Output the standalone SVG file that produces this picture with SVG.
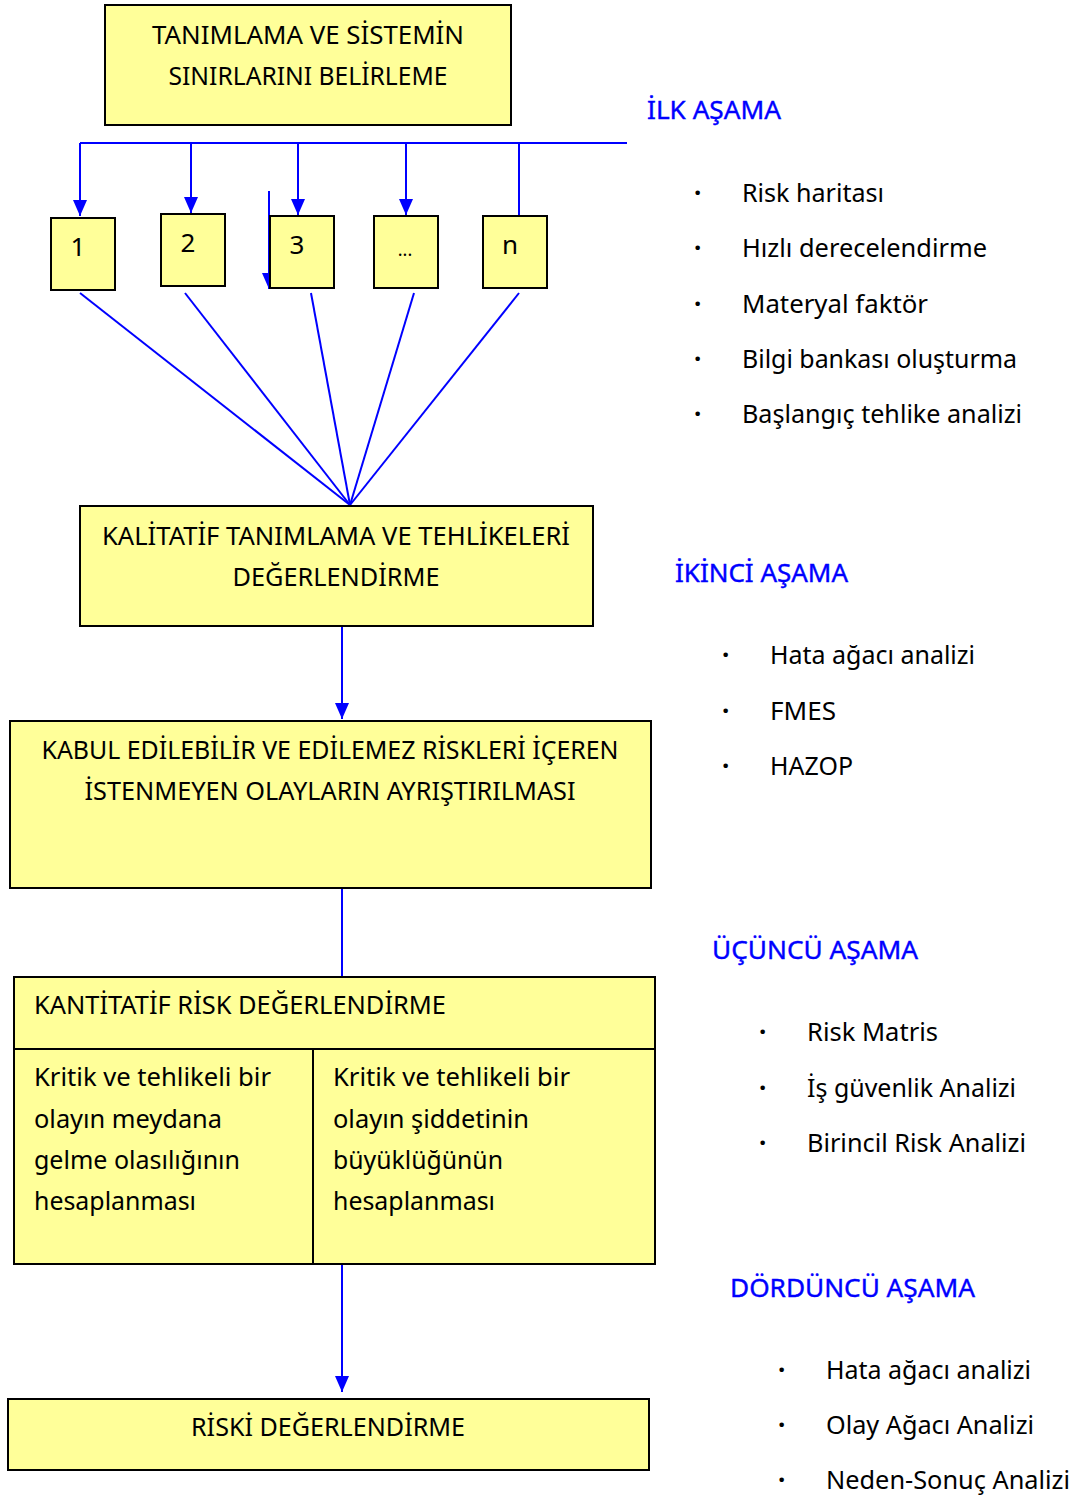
<svg xmlns="http://www.w3.org/2000/svg" width="1077" height="1495" viewBox="0 0 1077 1495">
<style>
.box{fill:#FFFF99;stroke:#000;stroke-width:2}
.t{font-family:"Noto Sans","Open Sans","DejaVu Sans",sans-serif;font-size:26px;fill:#000}
.h{font-family:"Noto Sans","Open Sans","DejaVu Sans",sans-serif;font-size:26px;fill:#0000FF;stroke:#0000FF;stroke-width:0.4}
.b{font-family:"Noto Sans","DejaVu Sans",sans-serif;font-size:26px;font-weight:bold;fill:#000}
.c{text-anchor:middle}
.conn{stroke:#0000FF;stroke-width:2;fill:none}
</style>
<defs>
<marker id="ah" viewBox="0 0 16 14" refX="16" refY="7" markerWidth="16" markerHeight="14" orient="auto" markerUnits="userSpaceOnUse">
<path d="M0,0 L16,7 L0,14 z" fill="#0000FF"/>
</marker>
</defs>
<g id="connectors">
<line class="conn" x1="80" y1="143" x2="627" y2="143"/>
<line class="conn" x1="80" y1="143" x2="80" y2="216" marker-end="url(#ah)"/>
<line class="conn" x1="191" y1="143" x2="191" y2="213" marker-end="url(#ah)"/>
<line class="conn" x1="298" y1="143" x2="298" y2="215" marker-end="url(#ah)"/>
<line class="conn" x1="406" y1="143" x2="406" y2="215" marker-end="url(#ah)"/>
<line class="conn" x1="519" y1="143" x2="519" y2="216"/>
<line class="conn" x1="269" y1="191" x2="269" y2="289" marker-end="url(#ah)"/>
<line class="conn" x1="80" y1="293" x2="350" y2="505"/>
<line class="conn" x1="185" y1="293" x2="350" y2="505"/>
<line class="conn" x1="311" y1="293" x2="350" y2="505"/>
<line class="conn" x1="414" y1="293" x2="350" y2="505"/>
<line class="conn" x1="519" y1="293" x2="350" y2="505"/>
<line class="conn" x1="342" y1="627" x2="342" y2="719" marker-end="url(#ah)"/>
<line class="conn" x1="342" y1="889" x2="342" y2="977"/>
<line class="conn" x1="342" y1="1265" x2="342" y2="1392" marker-end="url(#ah)"/>
</g>
<g id="n-top">
<rect class="box" x="105" y="5" width="406" height="120"/>
<text class="t c" x="308" y="44" textLength="312" lengthAdjust="spacingAndGlyphs">TANIMLAMA VE SİSTEMİN</text>
<text class="t c" x="308" y="85" textLength="279" lengthAdjust="spacingAndGlyphs">SINIRLARINI BELİRLEME</text>
</g>
<g id="n-1"><rect class="box" x="51" y="218" width="64" height="72"/><text class="t c" x="78" y="256">1</text></g>
<g id="n-2"><rect class="box" x="161" y="214" width="64" height="72"/><text class="t c" x="188" y="252">2</text></g>
<g id="n-3"><rect class="box" x="270" y="216" width="64" height="72"/><text class="t c" x="297" y="254">3</text></g>
<g id="n-dots"><rect class="box" x="374" y="216" width="64" height="72"/><text class="t c" x="405" y="256" style="font-size:18px">...</text></g>
<g id="n-n"><rect class="box" x="483" y="216" width="64" height="72"/><text class="t c" x="510" y="254">n</text></g>
<g id="n-kalitatif">
<rect class="box" x="80" y="506" width="513" height="120"/>
<text class="t c" x="336" y="545" textLength="468" lengthAdjust="spacingAndGlyphs">KALİTATİF TANIMLAMA VE TEHLİKELERİ</text>
<text class="t c" x="336" y="586" textLength="207" lengthAdjust="spacingAndGlyphs">DEĞERLENDİRME</text>
</g>
<g id="n-kabul">
<rect class="box" x="10" y="721" width="641" height="167"/>
<text class="t c" x="330" y="759" textLength="577" lengthAdjust="spacingAndGlyphs">KABUL EDİLEBİLİR VE EDİLEMEZ RİSKLERİ İÇEREN</text>
<text class="t c" x="330" y="800" textLength="491" lengthAdjust="spacingAndGlyphs">İSTENMEYEN OLAYLARIN AYRIŞTIRILMASI</text>
</g>
<g id="n-kantitatif">
<rect class="box" x="14" y="977" width="641" height="287"/>
<line x1="14" y1="1049" x2="655" y2="1049" stroke="#000" stroke-width="2"/>
<line x1="313" y1="1049" x2="313" y2="1264" stroke="#000" stroke-width="2"/>
<text class="t" x="34" y="1014" textLength="412" lengthAdjust="spacingAndGlyphs">KANTİTATİF RİSK DEĞERLENDİRME</text>
<text class="t" x="34" y="1086" textLength="237" lengthAdjust="spacingAndGlyphs">Kritik ve tehlikeli bir</text>
<text class="t" x="34" y="1128" textLength="188" lengthAdjust="spacingAndGlyphs">olayın meydana</text>
<text class="t" x="34" y="1169" textLength="206" lengthAdjust="spacingAndGlyphs">gelme olasılığının</text>
<text class="t" x="34" y="1210" textLength="162" lengthAdjust="spacingAndGlyphs">hesaplanması</text>
<text class="t" x="333" y="1086" textLength="237" lengthAdjust="spacingAndGlyphs">Kritik ve tehlikeli bir</text>
<text class="t" x="333" y="1128" textLength="196" lengthAdjust="spacingAndGlyphs">olayın şiddetinin</text>
<text class="t" x="333" y="1169" textLength="170" lengthAdjust="spacingAndGlyphs">büyüklüğünün</text>
<text class="t" x="333" y="1210" textLength="162" lengthAdjust="spacingAndGlyphs">hesaplanması</text>
</g>
<g id="n-riski">
<rect class="box" x="8" y="1399" width="641" height="71"/>
<text class="t c" x="328" y="1436" textLength="274" lengthAdjust="spacingAndGlyphs">RİSKİ DEĞERLENDİRME</text>
</g>
<g id="stage1">
<text class="h" x="647" y="119" textLength="134" lengthAdjust="spacingAndGlyphs">İLK AŞAMA</text>
<text class="b" x="694" y="202">·</text><text class="t" x="742" y="202" textLength="142" lengthAdjust="spacingAndGlyphs">Risk haritası</text>
<text class="b" x="694" y="257">·</text><text class="t" x="742" y="257" textLength="245" lengthAdjust="spacingAndGlyphs">Hızlı derecelendirme</text>
<text class="b" x="694" y="313">·</text><text class="t" x="742" y="313" textLength="186" lengthAdjust="spacingAndGlyphs">Materyal faktör</text>
<text class="b" x="694" y="368">·</text><text class="t" x="742" y="368" textLength="275" lengthAdjust="spacingAndGlyphs">Bilgi bankası oluşturma</text>
<text class="b" x="694" y="423">·</text><text class="t" x="742" y="423" textLength="280" lengthAdjust="spacingAndGlyphs">Başlangıç tehlike analizi</text>
</g>
<g id="stage2">
<text class="h" x="675" y="582" textLength="173" lengthAdjust="spacingAndGlyphs">İKİNCİ AŞAMA</text>
<text class="b" x="722" y="664">·</text><text class="t" x="770" y="664" textLength="205" lengthAdjust="spacingAndGlyphs">Hata ağacı analizi</text>
<text class="b" x="722" y="720">·</text><text class="t" x="770" y="720" textLength="66" lengthAdjust="spacingAndGlyphs">FMES</text>
<text class="b" x="722" y="775">·</text><text class="t" x="770" y="775" textLength="83" lengthAdjust="spacingAndGlyphs">HAZOP</text>
</g>
<g id="stage3">
<text class="h" x="712" y="959" textLength="206" lengthAdjust="spacingAndGlyphs">ÜÇÜNCÜ AŞAMA</text>
<text class="b" x="759" y="1041">·</text><text class="t" x="807" y="1041" textLength="131" lengthAdjust="spacingAndGlyphs">Risk Matris</text>
<text class="b" x="759" y="1097">·</text><text class="t" x="807" y="1097" textLength="209" lengthAdjust="spacingAndGlyphs">İş güvenlik Analizi</text>
<text class="b" x="759" y="1152">·</text><text class="t" x="807" y="1152" textLength="219" lengthAdjust="spacingAndGlyphs">Birincil Risk Analizi</text>
</g>
<g id="stage4">
<text class="h" x="730" y="1297" textLength="245" lengthAdjust="spacingAndGlyphs">DÖRDÜNCÜ AŞAMA</text>
<text class="b" x="778" y="1379">·</text><text class="t" x="826" y="1379" textLength="205" lengthAdjust="spacingAndGlyphs">Hata ağacı analizi</text>
<text class="b" x="778" y="1434">·</text><text class="t" x="826" y="1434" textLength="208" lengthAdjust="spacingAndGlyphs">Olay Ağacı Analizi</text>
<text class="b" x="778" y="1489">·</text><text class="t" x="826" y="1489" textLength="244" lengthAdjust="spacingAndGlyphs">Neden-Sonuç Analizi</text>
</g>
</svg>
